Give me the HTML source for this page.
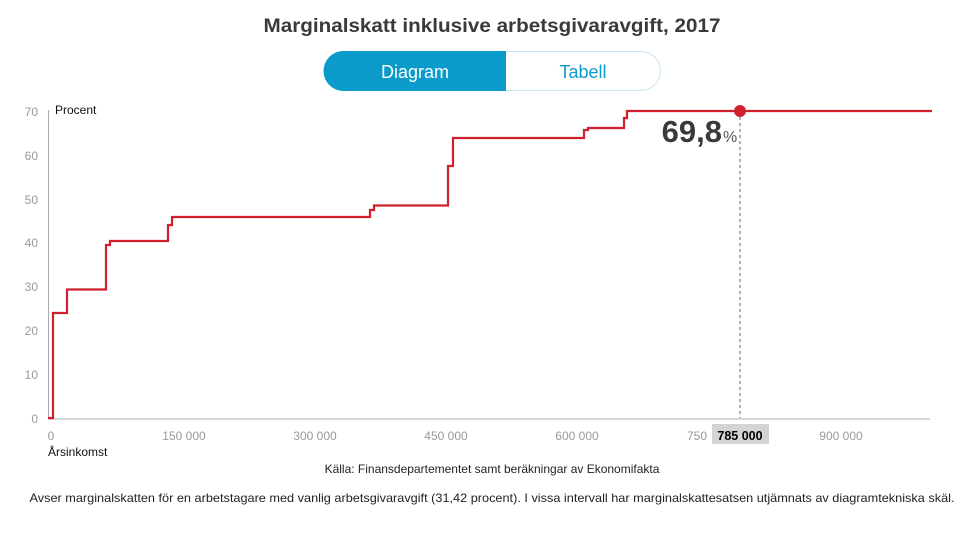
<!DOCTYPE html>
<html><head><meta charset="utf-8"><style>
body{margin:0;background:#fff;width:971px;height:535px;overflow:hidden;font-family:"Liberation Sans",sans-serif}
</style></head><body>
<svg width="971" height="535" viewBox="0 0 971 535" xmlns="http://www.w3.org/2000/svg" font-family="Liberation Sans, sans-serif">
<text x="492" y="32" text-anchor="middle" font-size="19" font-weight="bold" fill="#3a3a3a" textLength="457" lengthAdjust="spacingAndGlyphs">Marginalskatt inklusive arbetsgivaravgift, 2017</text>
<rect x="324.5" y="51.5" width="336" height="39" rx="19.5" fill="#fff" stroke="#c6e6f2"/>
<path d="M343.5 51 H506 V91 H343.5 A20 20 0 0 1 343.5 51 Z" fill="#0a9bcb"/>
<text x="415" y="78" text-anchor="middle" font-size="18" fill="#fff">Diagram</text>
<text x="583" y="78" text-anchor="middle" font-size="18" fill="#0a9bcb">Tabell</text>
<g font-size="12" fill="#999">
<text x="38" y="423" text-anchor="end">0</text>
<text x="38" y="379" text-anchor="end">10</text>
<text x="38" y="335" text-anchor="end">20</text>
<text x="38" y="291" text-anchor="end">30</text>
<text x="38" y="247" text-anchor="end">40</text>
<text x="38" y="204" text-anchor="end">50</text>
<text x="38" y="160" text-anchor="end">60</text>
<text x="38" y="116" text-anchor="end">70</text>
<text x="51" y="440" text-anchor="middle">0</text>
<text x="184" y="440" text-anchor="middle">150 000</text>
<text x="315" y="440" text-anchor="middle">300 000</text>
<text x="446" y="440" text-anchor="middle">450 000</text>
<text x="577" y="440" text-anchor="middle">600 000</text>
<text x="697" y="440" text-anchor="middle">750</text>
<text x="841" y="440" text-anchor="middle">900 000</text>
</g>
<text x="55" y="114" font-size="12" fill="#111">Procent</text>
<text x="48" y="456" font-size="12" fill="#111">Årsinkomst</text>
<line x1="48.5" y1="110" x2="48.5" y2="419" stroke="#aaa"/>
<line x1="48" y1="419" x2="930" y2="419" stroke="#ccc" stroke-width="1.5"/>
<line x1="740" y1="117" x2="740" y2="418" stroke="#999" stroke-width="1.5" stroke-dasharray="3,3"/>
<polyline fill="none" stroke="#d0202e" stroke-width="2.2" points="48,418 53,418 53,313 67,313 67,289.5 106,289.5 106,245 110,245 110,241 168,241 168,225 172,225 172,217 370,217 370,210 374,210 374,205.5 448,205.5 448,166 453,166 453,138 584,138 584,130 588,130 588,128 624,128 624,118 627,118 627,111 932,111"/>
<circle cx="740" cy="111" r="6" fill="#d0202e"/>
<text x="722" y="142" text-anchor="end" font-size="31" font-weight="bold" fill="#3a3a3a">69,8</text>
<text x="723" y="142" font-size="16" fill="#555">%</text>
<rect x="712" y="424" width="57" height="20" fill="#d4d4d4"/>
<text x="740" y="440" text-anchor="middle" font-size="12.5" font-weight="bold" fill="#000">785 000</text>
<text x="492" y="473" text-anchor="middle" font-size="12" fill="#222">Källa: Finansdepartementet samt beräkningar av Ekonomifakta</text>
<text x="492" y="502" text-anchor="middle" font-size="12" fill="#222" textLength="925" lengthAdjust="spacingAndGlyphs">Avser marginalskatten för en arbetstagare med vanlig arbetsgivaravgift (31,42 procent). I vissa intervall har marginalskattesatsen utjämnats av diagramtekniska skäl.</text>
</svg>
</body></html>
